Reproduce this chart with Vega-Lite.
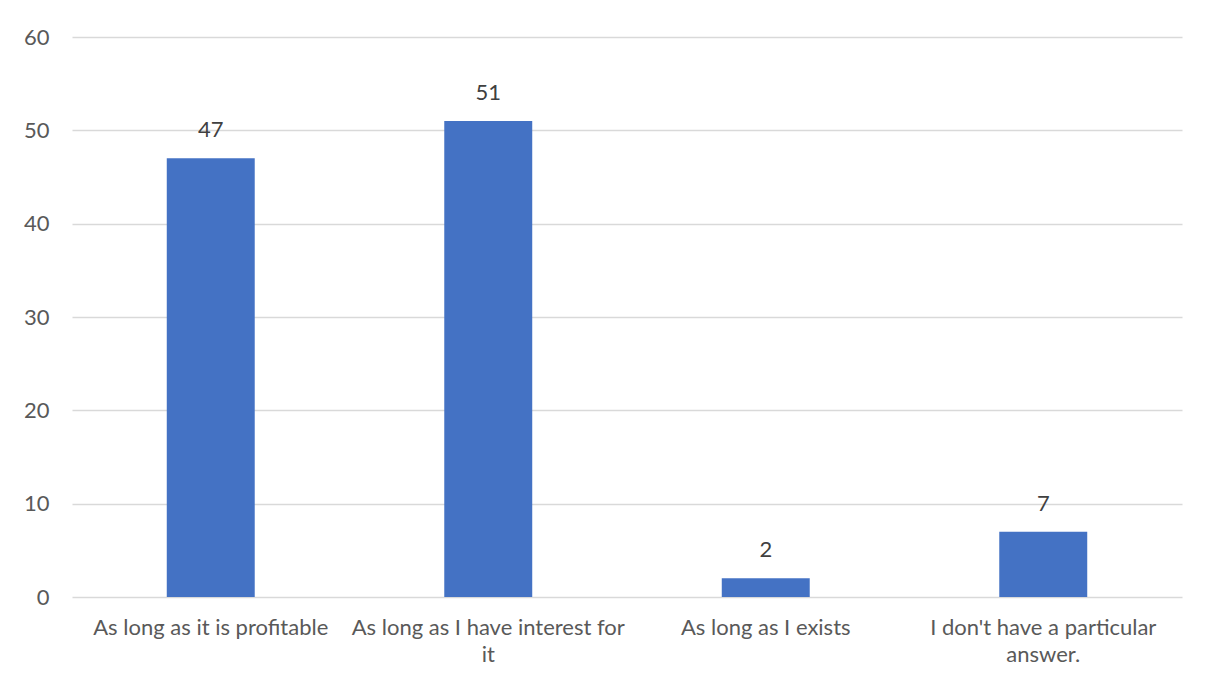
{
  "$schema": "https://vega.github.io/schema/vega-lite/v6.json",
  "width": 1110,
  "height": 560,
  "autosize": {"type": "none"},
  "padding": {"left": 72, "top": 37, "right": 24, "bottom": 87},
  "background": "white",
  "config": {
    "view": {"stroke": null},
    "font": "Lato",
    "axis": {"labelFont": "Lato", "labelColor": "#595959", "labelFontSize": 22, "title": null}
  },
  "data": {
    "values": [
      {"answer": "As long as it is profitable", "count": 47},
      {"answer": "As long as I have interest for it", "count": 51},
      {"answer": "As long as I exists", "count": 2},
      {"answer": "I don't have a particular answer.", "count": 7}
    ]
  },
  "encoding": {
    "x": {
      "field": "answer",
      "type": "nominal",
      "sort": null,
      "scale": {"paddingInner": 0.683, "paddingOuter": 0.3415},
      "axis": {
        "labelAngle": 0,
        "ticks": false,
        "domain": false,
        "labelPadding": 20,
        "labelLineHeight": 27,
        "labelLimit": 400,
        "labelExpr": "datum.label == 'As long as I have interest for it' ? ['As long as I have interest for', 'it'] : (datum.label == \"I don't have a particular answer.\" ? [\"I don't have a particular\", \"answer.\"] : datum.label)"
      }
    },
    "y": {
      "field": "count",
      "type": "quantitative",
      "scale": {"domain": [0, 60]},
      "axis": {
        "values": [0, 10, 20, 30, 40, 50, 60],
        "ticks": false,
        "domain": false,
        "labelPadding": 23,
        "gridColor": "#d9d9d9",
        "gridWidth": 1.5
      }
    }
  },
  "layer": [
    {"mark": {"type": "bar", "color": "#4472C4"}},
    {
      "mark": {"type": "text", "dy": -16, "baseline": "bottom", "fontSize": 22, "color": "#404040", "font": "Lato"},
      "encoding": {"text": {"field": "count", "type": "quantitative"}}
    }
  ]
}
